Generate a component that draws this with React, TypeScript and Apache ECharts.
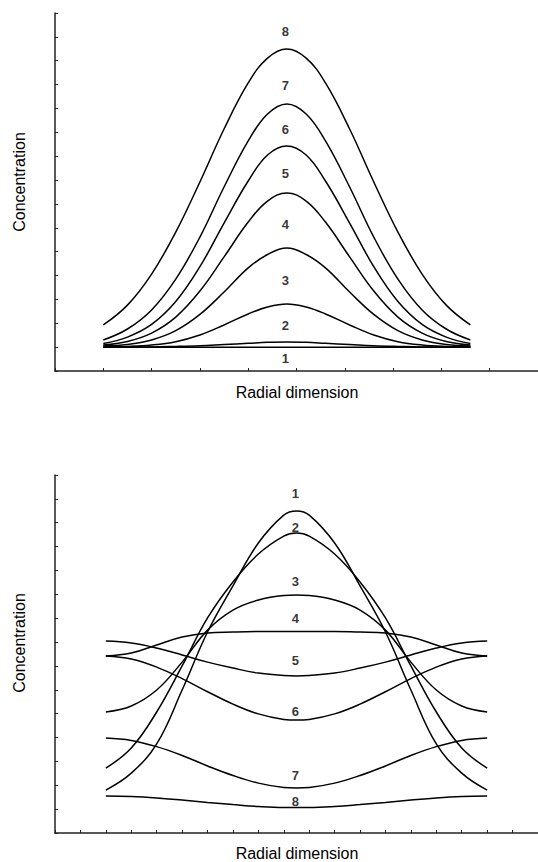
import { useEffect, useRef } from "react";
import * as echarts from "echarts";

// ---------- Top panel (concentration build-up) ----------
const topX = [1.0, 1.5, 2.0, 2.5, 3.0, 3.5, 4.0, 4.4, 4.8, 5.2, 5.6, 6.1, 6.6, 7.1, 7.6, 8.1, 8.6];
const topC1 = [1.0, 1.0, 1.0, 1.0, 1.0, 1.0, 1.0, 1.0, 1.0, 1.0, 1.0, 1.0, 1.0, 1.0, 1.0, 1.0, 1.0];
const topC2 = [1.01, 1.01, 1.01, 1.03, 1.06, 1.11, 1.16, 1.2, 1.21, 1.2, 1.16, 1.11, 1.06, 1.03, 1.01, 1.01, 1.01];
const topC3 = [1.01, 1.03, 1.09, 1.23, 1.51, 1.93, 2.39, 2.68, 2.81, 2.68, 2.39, 1.93, 1.51, 1.23, 1.09, 1.03, 1.01];
const topC4 = [1.05, 1.11, 1.3, 1.69, 2.37, 3.31, 4.32, 4.88, 5.15, 4.88, 4.32, 3.31, 2.37, 1.69, 1.3, 1.11, 1.05];
const topC5 = [1.09, 1.24, 1.59, 2.26, 3.35, 4.78, 6.24, 7.12, 7.46, 7.12, 6.24, 4.78, 3.35, 2.26, 1.59, 1.24, 1.09];
const topC6 = [1.15, 1.42, 1.95, 2.91, 4.37, 6.2, 7.96, 9.05, 9.43, 9.05, 7.96, 6.2, 4.37, 2.91, 1.95, 1.42, 1.15];
const topC7 = [1.3, 1.76, 2.56, 3.85, 5.61, 7.71, 9.64, 10.77, 11.19, 10.77, 9.64, 7.71, 5.61, 3.85, 2.56, 1.76, 1.3];
const topC8 = [1.93, 2.76, 4.06, 5.82, 7.92, 10.14, 12.07, 13.11, 13.49, 13.11, 12.07, 10.14, 7.92, 5.82, 4.06, 2.76, 1.93];
const topCurves = [topC1, topC2, topC3, topC4, topC5, topC6, topC7, topC8];
const topLabelX = 4.77;
const topLabelY = [0.52, 1.91, 3.81, 6.14, 8.27, 10.12, 11.97, 14.23];

// ---------- Bottom panel (redistribution) ----------
const botX = [2, 3, 4, 5, 6, 7, 8, 9, 9.5, 10, 11, 12, 13, 14, 15, 16, 17];
const botC1 = [1.8, 2.51, 3.73, 5.99, 8.42, 10.35, 12.15, 13.32, 13.49, 13.32, 12.15, 10.35, 8.42, 5.99, 3.73, 2.51, 1.8];
const botC2 = [2.72, 3.56, 5.07, 7.0, 9.01, 10.52, 11.69, 12.44, 12.57, 12.44, 11.69, 10.52, 9.01, 7.0, 5.07, 3.56, 2.72];
const botC3 = [5.07, 5.32, 5.99, 7.16, 8.5, 9.34, 9.76, 9.95, 9.97, 9.95, 9.76, 9.34, 8.5, 7.16, 5.99, 5.32, 5.07];
const botC4 = [7.42, 7.54, 7.88, 8.21, 8.38, 8.42, 8.44, 8.44, 8.44, 8.44, 8.44, 8.42, 8.38, 8.21, 7.88, 7.54, 7.42];
const botC5 = [8.04, 7.96, 7.75, 7.46, 7.16, 6.91, 6.7, 6.6, 6.58, 6.6, 6.7, 6.91, 7.16, 7.46, 7.75, 7.96, 8.04];
const botC6 = [7.42, 7.29, 6.95, 6.47, 5.92, 5.4, 4.99, 4.76, 4.73, 4.76, 4.99, 5.4, 5.92, 6.47, 6.95, 7.29, 7.42];
const botC7 = [3.98, 3.88, 3.62, 3.25, 2.81, 2.41, 2.09, 1.91, 1.89, 1.91, 2.09, 2.41, 2.81, 3.25, 3.62, 3.88, 3.98];
const botC8 = [1.55, 1.53, 1.47, 1.38, 1.28, 1.19, 1.11, 1.07, 1.07, 1.07, 1.11, 1.19, 1.28, 1.38, 1.47, 1.53, 1.55];
const botCurves = [botC1, botC2, botC3, botC4, botC5, botC6, botC7, botC8];
const botLabelX = 9.46;
const botLabelY = [14.24, 12.82, 10.52, 8.97, 7.21, 5.11, 2.43, 1.3];

const curveNames = ["1", "2", "3", "4", "5", "6", "7", "8"];
const yTitle = "Concentration";
const xTitle = "Radial dimension";

const FONT = "'Liberation Sans', Arial, Helvetica, sans-serif";
const AXIS_COLOR = "#222";

export default function App() {
  const ref = useRef<HTMLDivElement>(null);

  useEffect(() => {
    if (!ref.current) return;
    const chart = echarts.init(ref.current, undefined, { renderer: "svg" });

    const axisCommon = {
      type: "value" as const,
      interval: 1,
      axisLine: { show: true, onZero: false, lineStyle: { color: AXIS_COLOR, width: 1.5 } },
      axisTick: { show: true, inside: true, length: 3, lineStyle: { color: AXIS_COLOR, width: 1 } },
      axisLabel: { show: false },
      splitLine: { show: false },
    };

    const lineSeries = (curves: number[][], xs: number[], idx: number) =>
      curves.map((vals, i) => ({
        type: "line" as const,
        name: (idx === 0 ? "top " : "bottom ") + curveNames[i],
        xAxisIndex: idx,
        yAxisIndex: idx,
        data: xs.map((x, j) => [x, vals[j]]),
        smooth: 0.4,
        symbol: "none",
        lineStyle: { color: "#000", width: 1.5 },
        silent: true,
      }));

    const labelSeries = (lx: number, ly: number[], idx: number) => ({
      type: "scatter" as const,
      xAxisIndex: idx,
      yAxisIndex: idx,
      symbolSize: 0,
      silent: true,
      data: ly.map((y, i) => ({ value: [lx, y], name: curveNames[i] })),
      label: {
        show: true,
        position: "inside" as const,
        formatter: (p: any) => p.name,
        color: "#000",
        textBorderWidth: 0,
        fontWeight: "bold" as const,
        fontSize: 13,
        fontFamily: FONT,
      },
    });

    const titleStyle = { fill: "#000", fontSize: 16, fontFamily: FONT, align: "center", verticalAlign: "middle" };

    chart.setOption({
      animation: false,
      backgroundColor: "#fff",
      grid: [
        { left: 55, top: 13, width: 486, height: 358 },
        { left: 55, top: 475, width: 486, height: 358 },
      ],
      xAxis: [
        { ...axisCommon, gridIndex: 0, min: 0, max: 10 },
        { ...axisCommon, gridIndex: 1, min: 0, max: 19 },
      ],
      yAxis: [
        { ...axisCommon, gridIndex: 0, min: 0, max: 15 },
        { ...axisCommon, gridIndex: 1, min: 0, max: 15 },
      ],
      series: [
        ...lineSeries(topCurves, topX, 0),
        ...lineSeries(botCurves, botX, 1),
        labelSeries(topLabelX, topLabelY, 0),
        labelSeries(botLabelX, botLabelY, 1),
      ],
      graphic: [
        { type: "text", x: 19, y: 182, rotation: Math.PI / 2, style: { ...titleStyle, text: yTitle } },
        { type: "text", x: 19, y: 643, rotation: Math.PI / 2, style: { ...titleStyle, text: yTitle } },
        { type: "text", x: 297, y: 392, style: { ...titleStyle, text: xTitle } },
        { type: "text", x: 297, y: 853, style: { ...titleStyle, text: xTitle } },
      ],
    });

    return () => chart.dispose();
  }, []);

  return (
    <div
      ref={ref}
      style={{ position: "absolute", left: 0, top: 0, width: 538, height: 862, background: "#fff" }}
    />
  );
}
